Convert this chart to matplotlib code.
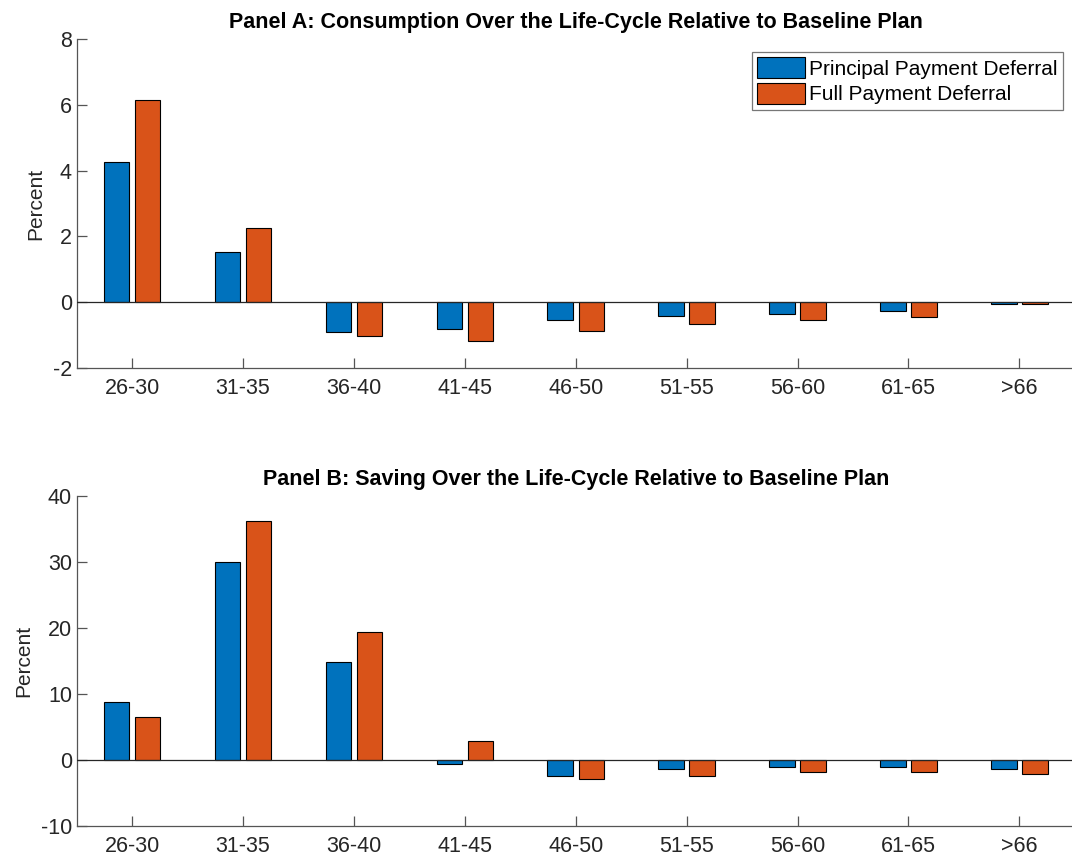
import numpy as np
import matplotlib
matplotlib.use("Agg")
import matplotlib.pyplot as plt

# age groups on the x-axis
ages = ["26-30", "31-35", "36-40", "41-45", "46-50", "51-55", "56-60", "61-65", ">66"]

# Panel A: consumption relative to baseline (percent)
cons_principal = [4.26, 1.52, -0.92, -0.82, -0.55, -0.41, -0.35, -0.28, -0.05]
cons_full = [6.15, 2.25, -1.04, -1.19, -0.88, -0.66, -0.55, -0.44, -0.07]

# Panel B: saving relative to baseline (percent)
sav_principal = [8.7, 29.9, 14.8, -0.55, -2.4, -1.45, -1.15, -1.15, -1.4]
sav_full = [6.55, 36.1, 19.4, 2.8, -2.9, -2.4, -1.9, -1.9, -2.15]

blue = "#0072BD"
orange = "#D95319"
txt = "#262626"

plt.rcParams["font.family"] = ["Liberation Sans", "DejaVu Sans"]
plt.rcParams["axes.unicode_minus"] = False

fig = plt.figure(figsize=(10.72, 8.61), dpi=100)
axA = fig.add_axes([0.0716, 0.5726, 0.931, 0.3821])
axB = fig.add_axes([0.0716, 0.0407, 0.931, 0.3836])


def draw_panel(ax, principal, full, title, ylim, yticks):
    x = np.arange(1, len(ages) + 1)
    w = 0.23
    ax.bar(x - 0.14, principal, w, color=blue, edgecolor="black", linewidth=0.8,
           label="Principal Payment Deferral", zorder=2)
    ax.bar(x + 0.14, full, w, color=orange, edgecolor="black", linewidth=0.8,
           label="Full Payment Deferral", zorder=2)
    ax.axhline(0, color="#262626", linewidth=0.9, zorder=3)
    ax.set_xlim(0.5, 9.5)
    ax.set_ylim(*ylim)
    ax.set_yticks(yticks)
    ax.set_xticks(x)
    ax.set_xticklabels(ages)
    ax.set_ylabel("Percent", fontsize=15, color=txt, labelpad=5)
    ax.set_title(title, fontsize=15.5, fontweight="bold", color="black", pad=8)
    ax.spines["top"].set_visible(False)
    ax.spines["right"].set_visible(False)
    for s in ("left", "bottom"):
        ax.spines[s].set_color("#555555")
        ax.spines[s].set_linewidth(0.9)
    ax.tick_params(direction="in", length=7, width=0.9, color="#555555",
                   labelsize=15.5, labelcolor=txt)
    ax.tick_params(axis="x", pad=7)


draw_panel(axA, cons_principal, cons_full,
           "Panel A: Consumption Over the Life-Cycle Relative to Baseline Plan",
           (-2, 8), [-2, 0, 2, 4, 6, 8])
draw_panel(axB, sav_principal, sav_full,
           "Panel B: Saving Over the Life-Cycle Relative to Baseline Plan",
           (-10, 40), [-10, 0, 10, 20, 30, 40])

leg = axA.legend(loc="upper right", bbox_to_anchor=(0.988, 0.96), fontsize=15,
                 frameon=True, fancybox=False, borderpad=0.25, handlelength=2.3,
                 handleheight=1.15, handletextpad=0.2, labelspacing=0.2,
                 borderaxespad=0)
leg.get_frame().set_edgecolor("#555555")
leg.get_frame().set_linewidth(0.9)

fig.savefig("out.png", dpi=100)
